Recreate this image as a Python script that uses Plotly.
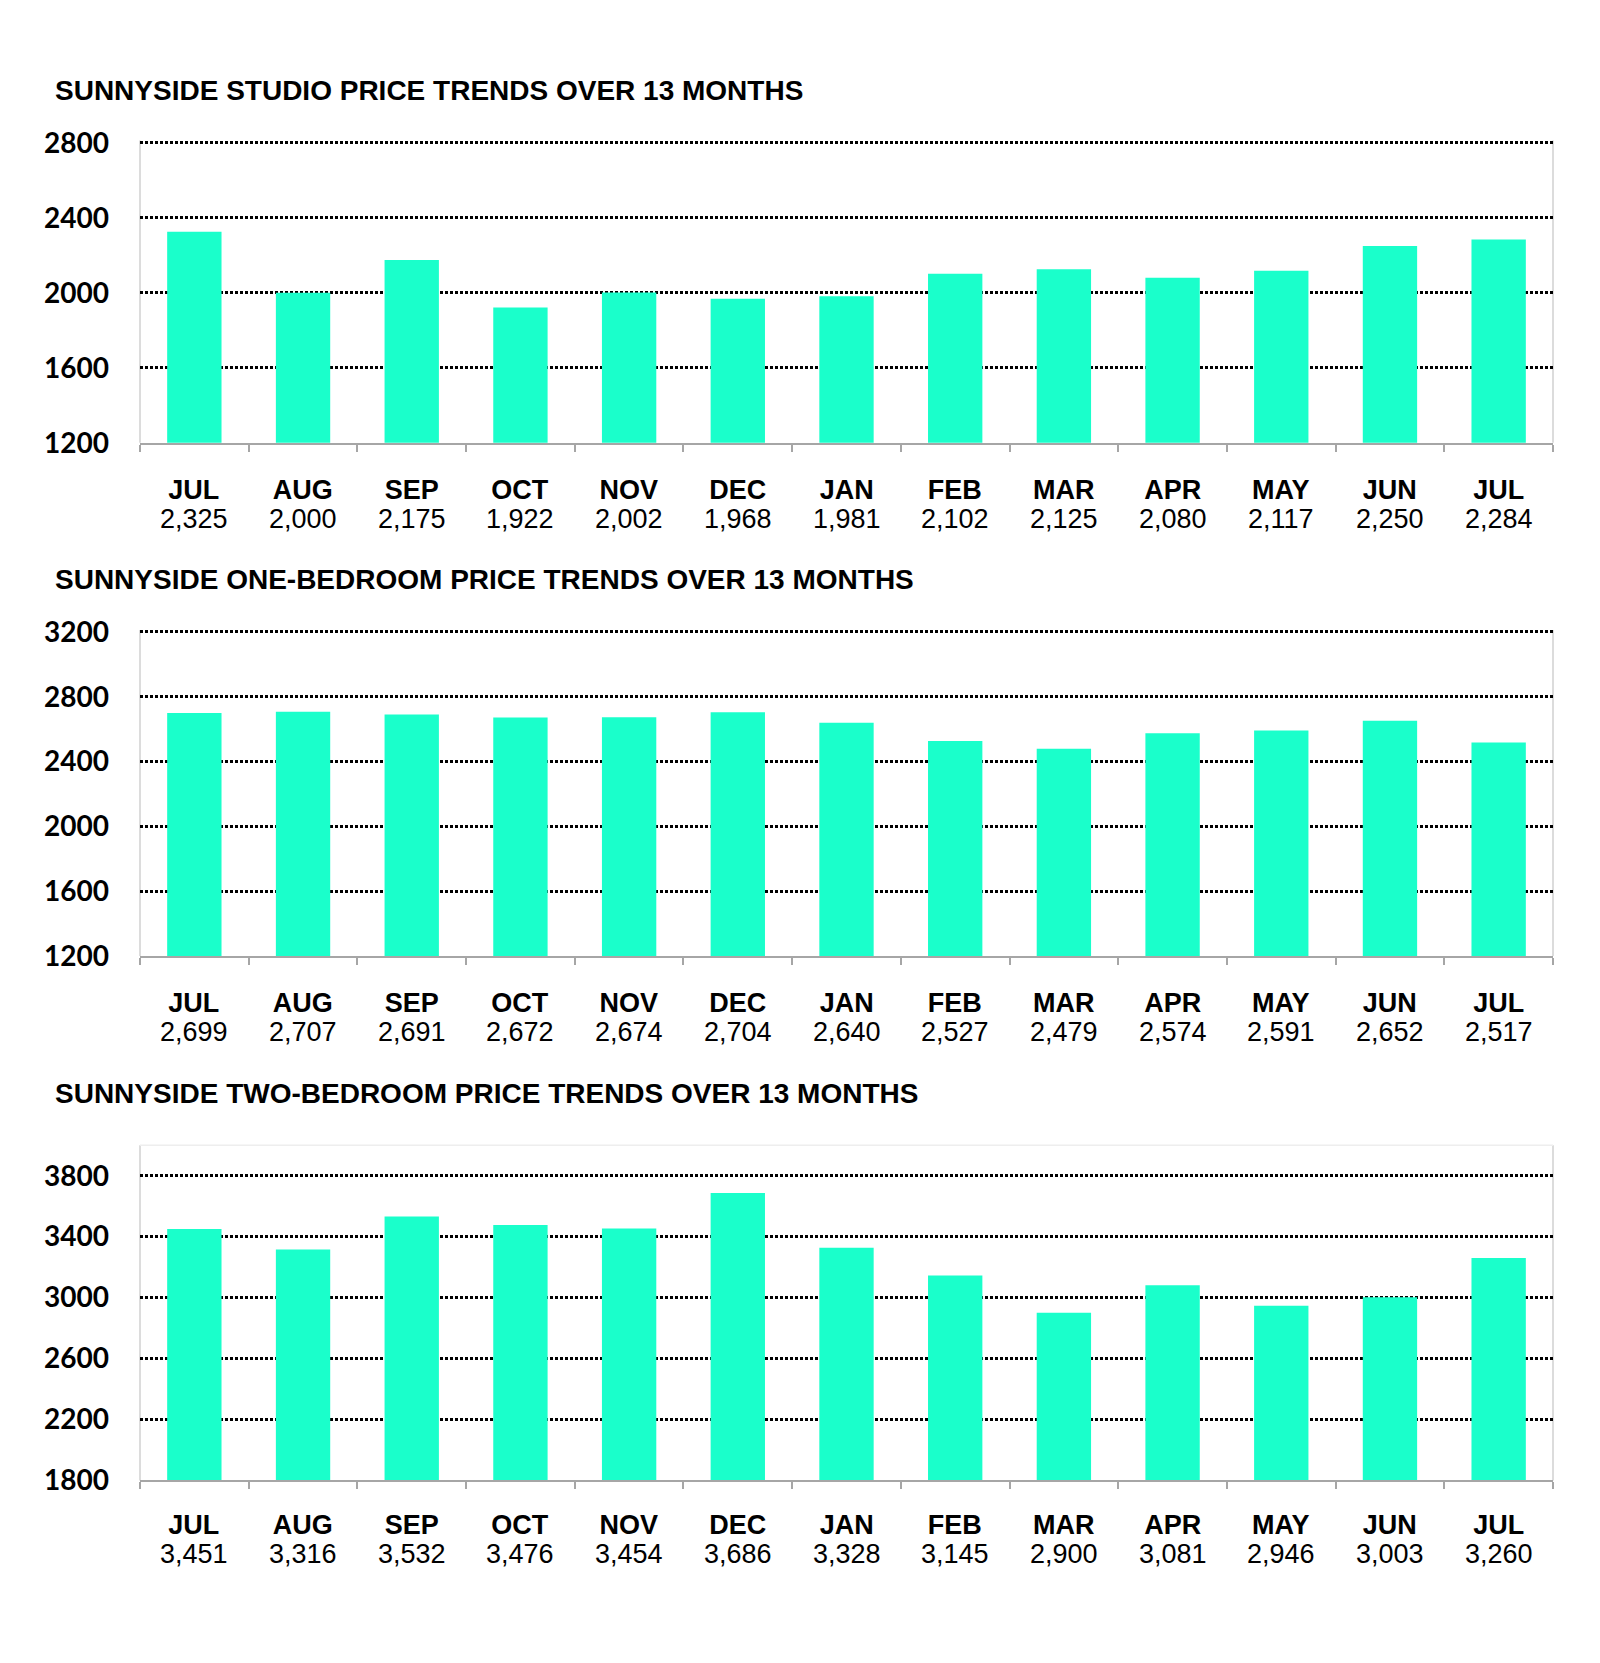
import plotly.graph_objects as go

months = ["JUL", "AUG", "SEP", "OCT", "NOV", "DEC", "JAN", "FEB", "MAR", "APR", "MAY", "JUN", "JUL"]
studio = [2325, 2000, 2175, 1922, 2002, 1968, 1981, 2102, 2125, 2080, 2117, 2250, 2284]
one_bed = [2699, 2707, 2691, 2672, 2674, 2704, 2640, 2527, 2479, 2574, 2591, 2652, 2517]
two_bed = [3451, 3316, 3532, 3476, 3454, 3686, 3328, 3145, 2900, 3081, 2946, 3003, 3260]

titles = [
    "SUNNYSIDE STUDIO PRICE TRENDS OVER 13 MONTHS",
    "SUNNYSIDE ONE-BEDROOM PRICE TRENDS OVER 13 MONTHS",
    "SUNNYSIDE TWO-BEDROOM PRICE TRENDS OVER 13 MONTHS",
]
y_ranges = [[1200, 2812], [1200, 3212], [1800, 4000]]
y_ticks = [[1200, 1600, 2000, 2400, 2800],
           [1200, 1600, 2000, 2400, 2800, 3200],
           [1800, 2200, 2600, 3000, 3400, 3800]]

W, H = 1600, 1663
# pixel layout (top, bottom) of each plot area, title y, label-block offset
panels = [(127.0, 435.1, 75.5, -62), (626.0, 958.5, 574.8, -61), (1151.4, 1493.2, 1098.3, -59)]
x_left, x_right = 140, 1553

BAR = "#1AFFCB"
series = [studio, one_bed, two_bed]
xs = list(range(len(months)))

fig = go.Figure()
annotations = []
shapes = []
for i, (vals, (top, bot, ty, lab_off)) in enumerate(zip(series, panels)):
    n = "" if i == 0 else str(i + 1)
    fig.add_trace(go.Bar(x=xs, y=vals, width=0.5, marker=dict(color=BAR, line=dict(width=0)),
                         xaxis="x" + n, yaxis="y" + n, showlegend=False, hoverinfo="skip"))
    dom = [1 - bot / H, 1 - top / H]
    fig.update_layout(**{
        "xaxis" + n: dict(domain=[x_left / W, x_right / W], anchor="y" + n,
                          range=[-0.5, len(months) - 0.5],
                          tickvals=[k - 0.5 for k in range(len(months) + 1)],
                          showticklabels=False, ticks="outside", ticklen=7, tickwidth=2,
                          tickcolor="#A6A6A6", showline=True, linecolor="#A6A6A6", linewidth=2,
                          showgrid=False, zeroline=False, fixedrange=True),
        "yaxis" + n: dict(domain=dom, anchor="x" + n, range=y_ranges[i], tickvals=y_ticks[i],
                          showgrid=True, gridcolor="#000000", gridwidth=2.5, griddash="2.5px,2.5px",
                          showline=False, zeroline=False, ticks="",
                          tickfont=dict(family="Lato", size=28, color="#000000", weight="bold"),
                          ticklabelstandoff=30, fixedrange=True),
    })
    # light plot-area border lines
    shapes.append(dict(type="line", xref="x" + n + " domain", yref="y" + n + " domain",
                       x0=0, x1=0, y0=0, y1=1, line=dict(color="#D0D0D0", width=1.5), layer="below"))
    shapes.append(dict(type="line", xref="x" + n + " domain", yref="y" + n + " domain",
                       x0=1, x1=1, y0=0, y1=1, line=dict(color="#D0D0D0", width=1.5), layer="below"))
    if i == 2:
        shapes.append(dict(type="line", xref="x" + n + " domain", yref="y" + n + " domain",
                           x0=0, x1=1, y0=1, y1=1, line=dict(color="#EEEEEE", width=1.5), layer="below"))
    annotations.append(dict(text="<b>" + titles[i] + "</b>", xref="paper", yref="paper",
                            x=53 / W, y=1 - ty / H, xanchor="left", yanchor="middle", showarrow=False,
                            font=dict(family="Liberation Sans", size=28, color="#000000")))
    for k, (m, v) in enumerate(zip(months, vals)):
        label = ("<span style='font-size:27px'><b>" + m + "</b></span><br>"
                 "<span style='font-size:27px'>" + f"{v:,}" + "</span>")
        annotations.append(dict(text=label, xref="x" + n, yref="y" + n + " domain",
                                x=k, y=0, yshift=lab_off, xanchor="center", yanchor="middle",
                                showarrow=False, align="center",
                                font=dict(family="Liberation Sans", size=22.3, color="#000000")))

fig.update_layout(width=W, height=H, margin=dict(l=0, r=0, t=0, b=0),
                  paper_bgcolor="#FFFFFF", plot_bgcolor="#FFFFFF",
                  annotations=annotations, shapes=shapes, bargap=0.5)

fig.write_html("out.html", config={"displayModeBar": False},
               post_script="document.body.style.margin='0';document.body.style.padding='0';")
